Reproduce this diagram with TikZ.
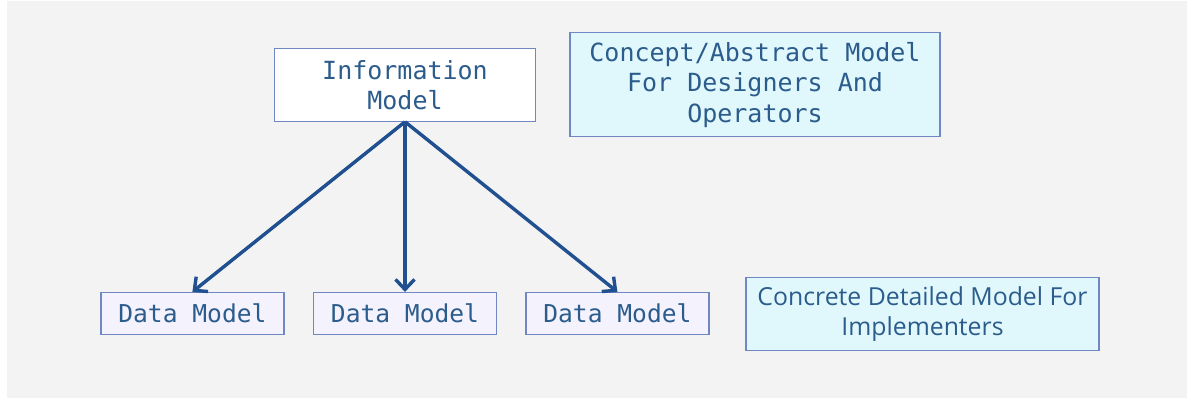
\documentclass[tikz,border=0pt]{standalone}
\usepackage{fontspec}
\usetikzlibrary{arrows.meta}
\newfontfamily\monofont{DejaVu Sans Mono}
\newfontfamily\plainsans{Open Sans}
\definecolor{bgpanel}{HTML}{F3F3F3}
\definecolor{txtblue}{HTML}{2B5C8C}
\definecolor{boxborder}{HTML}{6F87C2}
\definecolor{datafill}{HTML}{F4F2FD}
\definecolor{cyanfill}{HTML}{E0F8FC}
\definecolor{arrowblue}{HTML}{215090}
\tikzset{
  basebox/.style={draw=boxborder, line width=1.2pt, text=txtblue, inner sep=0pt, align=center},
  infobox/.style={basebox, fill=white, minimum width=261pt, minimum height=73pt,
    font=\monofont\fontsize{25pt}{30pt}\selectfont},
  conceptbox/.style={basebox, fill=cyanfill, minimum width=370pt, minimum height=104pt,
    font=\monofont\fontsize{25pt}{30.5pt}\selectfont},
  databox/.style={basebox, fill=datafill, minimum width=183pt, minimum height=42pt,
    font=\monofont\fontsize{24.6pt}{30pt}\selectfont},
  concretebox/.style={basebox, fill=cyanfill, minimum width=353pt, minimum height=73pt,
    font=\plainsans\fontsize{24.8pt}{30pt}\selectfont},
  link/.style={draw=arrowblue, line width=3.4pt, -{Straight Barb[length=10pt,width=19pt,line width=3.4pt]}}
}
\begin{document}
\begin{tikzpicture}[x=1pt,y=-1pt]
  \fill[white] (0,0) rectangle (1188,404);
  \useasboundingbox (0,0) rectangle (1188,404);
  \fill[bgpanel] (7,1) rectangle (1187,398);
  \node[infobox] (info) at (405,84.7) {Information\\Model};
  \node[conceptbox] (concept) at (755,84.7) {Concept/Abstract Model\\For Designers And\\Operators};
  \node[databox] (d1) at (192.4,313.5) {Data Model};
  \node[databox] (d2) at (405,313.5) {Data Model};
  \node[databox] (d3) at (617.4,313.5) {Data Model};
  \node[concretebox] (concrete) at (922.5,314) {Concrete Detailed Model For\\Implementers};
  \draw[link] (info.south) -- (d1.north);
  \draw[link] (info.south) -- (d2.north);
  \draw[link] (info.south) -- (d3.north);
\end{tikzpicture}
\end{document}
